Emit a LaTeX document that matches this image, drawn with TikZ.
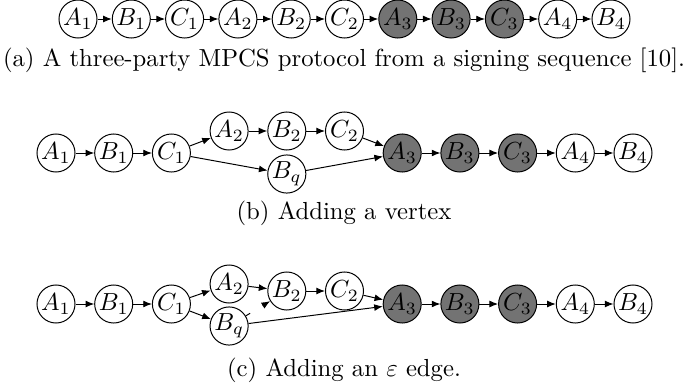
\documentclass[tikz,border=0pt]{standalone}
\usetikzlibrary{arrows.meta}

\begin{document}
\begin{tikzpicture}[>={Latex[length=3.5pt,width=2.8pt]},x=0.405pt,y=-0.405pt,
    party/.style={draw,circle,minimum size=15.4pt,inner sep=0pt},
    signed/.style={party,fill=black!55}]
    \useasboundingbox (0,0) rectangle (688,387);

    % (a) Signing sequence
    \node[party] (a1) at (78,19) {$A_1$};
    \node[party] (b1) at (131.3,19) {$B_1$};
    \node[party] (c1) at (184.6,19) {$C_1$};
    \node[party] (a2) at (237.9,19) {$A_2$};
    \node[party] (b2) at (291.2,19) {$B_2$};
    \node[party] (c2) at (344.5,19) {$C_2$};
    \node[signed] (a3) at (397.8,19) {$A_3$};
    \node[signed] (b3) at (451.1,19) {$B_3$};
    \node[signed] (c3) at (504.4,19) {$C_3$};
    \node[party] (a4) at (557.7,19) {$A_4$};
    \node[party] (b4) at (611,19) {$B_4$};
    \draw[->] (a1) -- (b1); \draw[->] (b1) -- (c1); \draw[->] (c1) -- (a2);
    \draw[->] (a2) -- (b2); \draw[->] (b2) -- (c2); \draw[->] (c2) -- (a3);
    \draw[->] (a3) -- (b3); \draw[->] (b3) -- (c3); \draw[->] (c3) -- (a4);
    \draw[->] (a4) -- (b4);
    \node (capa) at (344,60) {(a) A three-party MPCS protocol from a signing sequence [10].};

    % (b) Adding a vertex
    \node[party] (a1b) at (56,153) {$A_1$};
    \node[party] (b1b) at (113.7,153) {$B_1$};
    \node[party] (c1b) at (171.4,153) {$C_1$};
    \node[party] (a2b) at (229.1,131) {$A_2$};
    \node[party] (b2b) at (286.8,131) {$B_2$};
    \node[party] (c2b) at (344.5,131) {$C_2$};
    \node[party] (bqb) at (286.8,174) {$B_q$};
    \node[signed] (a3b) at (402.2,153) {$A_3$};
    \node[signed] (b3b) at (459.9,153) {$B_3$};
    \node[signed] (c3b) at (517.6,153) {$C_3$};
    \node[party] (a4b) at (575.3,153) {$A_4$};
    \node[party] (b4b) at (633,153) {$B_4$};
    \draw[->] (a1b) -- (b1b); \draw[->] (b1b) -- (c1b);
    \draw[->] (c1b) -- (a2b); \draw[->] (a2b) -- (b2b); \draw[->] (b2b) -- (c2b);
    \draw[->] (c2b) -- (a3b);
    \draw[->] (c1b) -- (bqb); \draw[->] (bqb) -- (a3b);
    \draw[->] (a3b) -- (b3b); \draw[->] (b3b) -- (c3b); \draw[->] (c3b) -- (a4b);
    \draw[->] (a4b) -- (b4b);
    \node (capb) at (344,213) {(b) Adding a vertex};

    % (c) Adding an epsilon edge
    \node[party] (a1c) at (56,304) {$A_1$};
    \node[party] (b1c) at (113.7,304) {$B_1$};
    \node[party] (c1c) at (171.4,304) {$C_1$};
    \node[party] (a2c) at (229.1,284) {$A_2$};
    \node[party] (bqc) at (229.1,326) {$B_q$};
    \node[party] (b2c) at (286.8,291) {$B_2$};
    \node[party] (c2c) at (344.5,291) {$C_2$};
    \node[signed] (a3c) at (402.2,304) {$A_3$};
    \node[signed] (b3c) at (459.9,304) {$B_3$};
    \node[signed] (c3c) at (517.6,304) {$C_3$};
    \node[party] (a4c) at (575.3,304) {$A_4$};
    \node[party] (b4c) at (633,304) {$B_4$};
    \draw[->] (a1c) -- (b1c); \draw[->] (b1c) -- (c1c);
    \draw[->] (c1c) -- (a2c); \draw[->] (c1c) -- (bqc);
    \draw[->] (a2c) -- (b2c); \draw[->] (b2c) -- (c2c); \draw[->] (c2c) -- (a3c);
    \draw[->,dash pattern=on 2pt off 6pt] (bqc) -- (b2c);
    \draw[->] (bqc) -- (a3c);
    \draw[->] (a3c) -- (b3c); \draw[->] (b3c) -- (c3c); \draw[->] (c3c) -- (a4c);
    \draw[->] (a4c) -- (b4c);
    \node (capc) at (344,370) {(c) Adding an $\varepsilon$ edge.};
\end{tikzpicture}
\end{document}
